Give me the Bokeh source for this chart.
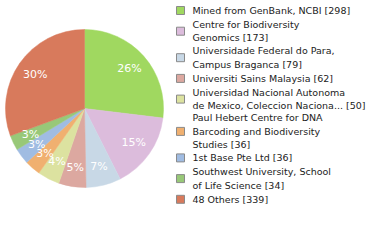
import math
from bokeh.plotting import figure
from bokeh.models import Range1d
from bokeh.core.properties import value
from bokeh.embed import file_html
from bokeh.resources import INLINE

labels = [
    "Mined from GenBank, NCBI [298]",
    "Centre for Biodiversity\nGenomics [173]",
    "Universidade Federal do Para,\nCampus Braganca [79]",
    "Universiti Sains Malaysia [62]",
    "Universidad Nacional Autonoma\nde Mexico, Coleccion Naciona... [50]",
    "Paul Hebert Centre for DNA\nBarcoding and Biodiversity\nStudies [36]",
    "1st Base Pte Ltd [36]",
    "Southwest University, School\nof Life Science [34]",
    "48 Others [339]",
]
counts = [298, 173, 79, 62, 50, 36, 36, 34, 339]
colors = ["#a0d860", "#dcbcdc", "#c8d8e6", "#dca8a0", "#dce2a0",
          "#f0b070", "#a0bce2", "#98c878", "#d87a5c"]

W, H = 380, 240
p = figure(width=W, height=H, output_backend="svg", toolbar_location=None,
           x_range=Range1d(0, W), y_range=Range1d(0, H), min_border=0)
p.axis.visible = False
p.grid.visible = False
p.outline_line_color = None
p.background_fill_color = "white"
p.border_fill_color = "white"

cx, cy, r = 84, 240 - 108, 79
total = sum(counts)
cum = 0.0
starts, ends, lx, ly, ltxt = [], [], [], [], []
for c in counts:
    f0 = cum / total
    cum += c
    f1 = cum / total
    starts.append(math.pi / 2 - f0 * 2 * math.pi)
    ends.append(math.pi / 2 - f1 * 2 * math.pi)
    mid = math.pi / 2 - (f0 + f1) * math.pi
    lx.append(cx + 0.76 * r * math.cos(mid))
    ly.append(cy + 0.76 * r * math.sin(mid))
    ltxt.append(f"{int(c * 100 / total)}%")

p.wedge(x=[cx] * len(counts), y=[cy] * len(counts), radius=r,
        start_angle=starts, end_angle=ends, direction="clock",
        fill_color=colors, line_color=colors, line_width=0.5)
p.text(x=lx, y=ly, text=ltxt, text_color="white", text_font=value("DejaVu Sans"),
       text_font_size="11px", text_align="center", text_baseline="middle")

# legend
fs = 9.5
line_h = 11.6
gap = 14.9
ypos = 10
sq_y, tx_y = [], []
for lab in labels:
    n = lab.count("\n") + 1
    center = ypos + (n - 1) * line_h / 2
    sq_y.append(H - center)
    tx_y.append(H - center)
    ypos += (n - 1) * line_h + gap
p.rect(x=[180] * len(labels), y=sq_y, width=8, height=8, fill_color=colors,
       line_color="#8a8a8a", line_width=1)
p.text(x=[192] * len(labels), y=tx_y, text=labels, text_color="#222222",
       text_font=value("DejaVu Sans"), text_font_size=f"{fs}px",
       text_baseline="middle", text_line_height=line_h / fs)

open("out.html", "w").write(file_html(p, INLINE))
